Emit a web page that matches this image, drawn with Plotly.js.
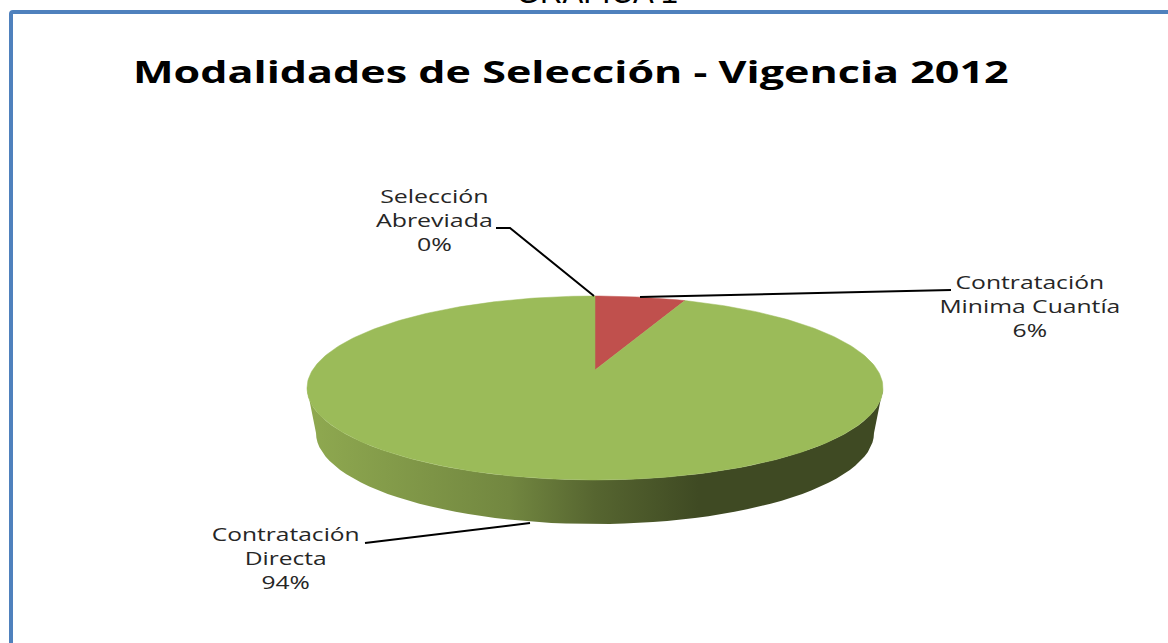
<!DOCTYPE html>
<html>
<head>
<meta charset="utf-8">
<script src="https://cdn.plot.ly/plotly-3.0.1.min.js"></script>
<style>
html,body{margin:0;padding:0;background:#fff;overflow:hidden}
#chart{width:1168px;height:643px}
</style>
</head>
<body>
<div id="chart"></div>
<script>
// Data
const categories = ['Selección Abreviada', 'Contratación Minima Cuantía', 'Contratación Directa'];
const labelLines = [['Selección', 'Abreviada'], ['Contratación', 'Minima Cuantía'], ['Contratación', 'Directa']];
const values = [0, 6, 94];
const sliceColors = ['#4f81bd', '#c0504d', '#9bbb59'];

// Geometry of the tilted pie, in pixel-sized axis units
const cx = 595, cy = 388, rx = 288, ry = 92;
const apexY = 370;
const perspective = 0.83;
const lowRx = 279, lowCy = 433, lowRy = 91;

function tiltAngle(phi) {
  let t = Math.atan2(perspective * Math.sin(phi), Math.cos(phi));
  if (t < 0) t += 2 * Math.PI;
  if (phi >= 2 * Math.PI - 1e-9) t = 2 * Math.PI;
  return t;
}
const total = values.reduce((a, b) => a + b, 0);
let acc = 0;
const sliceTraces = [];
values.forEach((v, i) => {
  const a0 = acc / total * 2 * Math.PI;
  acc += v;
  const a1 = acc / total * 2 * Math.PI;
  if (v === 0) return;
  const xs = [cx], ys = [apexY];
  const n = Math.max(8, Math.round(v * 4));
  for (let k = 0; k <= n; k++) {
    const t = tiltAngle(a0 + (a1 - a0) * k / n);
    xs.push(cx + rx * Math.sin(t));
    ys.push(cy - ry * Math.cos(t));
  }
  xs.push(cx); ys.push(apexY);
  sliceTraces.push({
    type: 'scatter', mode: 'lines', x: xs, y: ys, name: categories[i],
    fill: 'toself', fillcolor: sliceColors[i],
    line: {width: 0.5, color: sliceColors[i]}, hoverinfo: 'name'
  });
});

// Side wall
const wallX = [], wallY = [];
for (let d = 270; d >= 90; d -= 3) {
  const t = d * Math.PI / 180;
  wallX.push(cx + rx * Math.sin(t)); wallY.push(cy - ry * Math.cos(t));
}
for (let d = 90; d <= 270; d += 3) {
  const t = d * Math.PI / 180;
  wallX.push(cx + lowRx * Math.sin(t)); wallY.push(lowCy - lowRy * Math.cos(t));
}
wallX.push(wallX[0]); wallY.push(wallY[0]);
const wall = {
  type: 'scatter', mode: 'lines', x: wallX, y: wallY, fill: 'toself',
  line: {width: 0, color: '#3f4a23'}, hoverinfo: 'skip',
  fillgradient: {
    type: 'horizontal', start: 308, stop: 882,
    colorscale: [[0, '#8fa950'], [0.35, '#728740'], [0.5, '#566530'], [0.68, '#3f4a23'], [1, '#3f4a23']]
  }
};

// Leader lines
const leaderPaths = [
  {x: [496, 510, 594], y: [228, 228, 296]},
  {x: [640, 951], y: [297, 290]},
  {x: [365, 530], y: [543, 523]}
];
const leaders = leaderPaths.map(p => ({
  type: 'scatter', mode: 'lines', x: p.x, y: p.y,
  line: {color: '#000', width: 2}, hoverinfo: 'skip'
}));

// Label anchors and the widths the text occupies in the reference
const labelPos = [[434, 219.5], [1030, 305.5], [285, 557.5]];
const labelWidths = [117, 181, 148];
const lblFont = {family: 'Open Sans', size: 18.5, color: '#262626'};
const annotations = categories.map((c, i) => ({
  xref: 'x', yref: 'y', x: labelPos[i][0], y: labelPos[i][1],
  text: labelLines[i].concat([values[i] + '%']).join('<br>'),
  showarrow: false, align: 'center', xanchor: 'center', yanchor: 'middle', font: lblFont
}));
annotations.push({
  xref: 'x', yref: 'y', x: 597, y: 12, yanchor: 'bottom', xanchor: 'center', showarrow: false,
  text: 'GRÁFICA 1', font: {family: 'Liberation Sans', size: 31, color: '#000'}
});

const gd = document.getElementById('chart');
Plotly.newPlot(gd, [wall, ...sliceTraces, ...leaders], {
  width: 1168, height: 643,
  margin: {l: 0, r: 0, t: 0, b: 0},
  paper_bgcolor: '#fff', plot_bgcolor: '#fff',
  showlegend: false,
  title: {
    text: '<b>Modalidades de Selección - Vigencia 2012</b>',
    x: 133 / 1168, xanchor: 'left', xref: 'paper',
    y: 1 - 72 / 643, yanchor: 'middle', yref: 'container',
    font: {family: 'Open Sans', size: 31, color: '#000'}
  },
  xaxis: {range: [0, 1168], visible: false, fixedrange: true},
  yaxis: {range: [643, 0], visible: false, fixedrange: true},
  annotations,
  shapes: [
    {type: 'path', xref: 'x', yref: 'y',
     path: 'M 11 643 L 11 14 Q 11 12 13 12 L 1168 12',
     line: {color: '#4f81bd', width: 4}}
  ]
}, {displayModeBar: false}).then(() => {
  // The reference's text is stretched sideways: widen each text about its own centre.
  const texts = gd.querySelectorAll('.annotation-text');
  labelWidths.forEach((w, i) => {
    const el = texts[i];
    const b = el.getBBox();
    const mid = b.x + b.width / 2;
    const old = el.getAttribute('transform') || '';
    el.setAttribute('transform', old + ` translate(${mid} 0) scale(${w / b.width} 1) translate(${-mid} 0)`);
  });
  const title = gd.querySelector('.gtitle');
  const b = title.getBBox();
  const old = title.getAttribute('transform') || '';
  title.setAttribute('transform', old + ` translate(${b.x} 0) scale(${876 / b.width} 1) translate(${-b.x} 0)`);
});
</script>
</body>
</html>
